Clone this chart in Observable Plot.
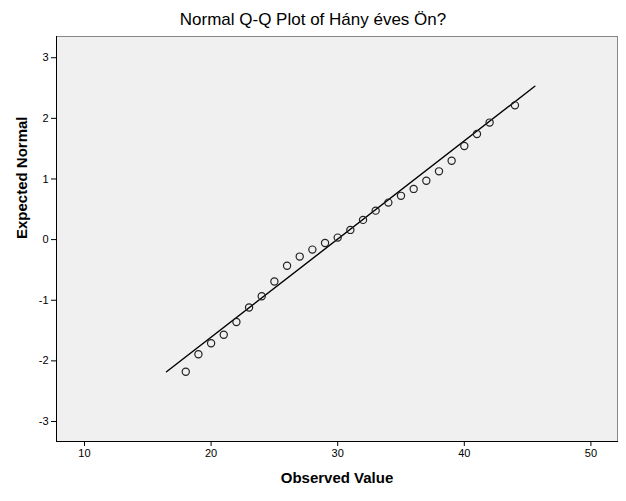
<!DOCTYPE html>
<html>
<head>
<meta charset="utf-8">
<script src="https://cdn.jsdelivr.net/npm/d3@7"></script>
<script src="https://cdn.jsdelivr.net/npm/@observablehq/plot@0.6"></script>
<style>
  html, body { margin: 0; padding: 0; background: #fff; }
  #wrap { width: 626px; height: 501px; font-family: "Liberation Sans", Arial, sans-serif; }
  #title { height: 30px; box-sizing: border-box; padding-top: 12px; line-height: 16px; text-align: center; font-size: 17px; color: #000; }
  svg { display: block; }
</style>
</head>
<body>
<div id="wrap">
  <div id="title">Normal Q-Q Plot of Hány éves Ön?</div>
  <div id="chart"></div>
</div>
<script>
const titleText = "Normal Q-Q Plot of Hány éves Ön?";
const xLabel = "Observed Value";
const yLabel = "Expected Normal";
const observed = [18, 19, 20, 21, 22, 23, 24, 25, 26, 27, 28, 29, 30, 31, 32, 33, 34, 35, 36, 37, 38, 39, 40, 41, 42, 44];
const expected = [-2.18, -1.89, -1.71, -1.57, -1.36, -1.12, -0.935, -0.69, -0.43, -0.28, -0.165, -0.055, 0.033, 0.16, 0.325, 0.478, 0.61, 0.722, 0.836, 0.97, 1.126, 1.30, 1.544, 1.742, 1.93, 2.214];
const lineX = [16.48, 45.57];
const lineY = [-2.18, 2.53];
const xTicks = [10, 20, 30, 40, 50];
const yTicks = [-3, -2, -1, 0, 1, 2, 3];

document.getElementById("title").textContent = titleText;

const points = observed.map((x, i) => ({x, y: expected[i]}));
const refLine = lineX.map((x, i) => ({x, y: lineY[i]}));

const chart = Plot.plot({
  width: 626,
  height: 471,
  marginTop: 6,
  marginBottom: 60,
  marginLeft: 56,
  marginRight: 9,
  style: {fontFamily: "'Liberation Sans', Arial, sans-serif", fontSize: "11px", color: "#000", background: "#fff"},
  x: {domain: [7.79, 52.1]},
  y: {domain: [-3.33, 3.35]},
  marks: [
    Plot.frame({fill: "#f0f0f0", stroke: "#888", strokeWidth: 1}),
    Plot.axisX({ticks: xTicks, tickSize: 5, tickPadding: 3, tickFormat: d => String(d), label: null, stroke: "#000", fill: "#000", fontSize: 11}),
    Plot.axisY({ticks: yTicks, tickSize: 5, tickPadding: 3, tickFormat: d => String(d), label: null, stroke: "#000", fill: "#000", fontSize: 11}),
    Plot.frame({anchor: "left", stroke: "#000", strokeWidth: 1}),
    Plot.frame({anchor: "bottom", stroke: "#000", strokeWidth: 1}),
    Plot.line(refLine, {x: "x", y: "y", stroke: "#000", strokeWidth: 1.4}),
    Plot.dot(points, {x: "x", y: "y", r: 3.6, stroke: "#222", strokeWidth: 1.2, fill: "none"}),
    Plot.text([xLabel], {frameAnchor: "bottom", dy: 37, text: d => d, fontWeight: "bold", fontSize: 15, fill: "#000", lineAnchor: "middle"}),
    Plot.text([yLabel], {frameAnchor: "left", dx: -34, text: d => d, rotate: -90, fontWeight: "bold", fontSize: 15, fill: "#000", lineAnchor: "middle"})
  ]
});
document.getElementById("chart").appendChild(chart);
</script>
</body>
</html>
